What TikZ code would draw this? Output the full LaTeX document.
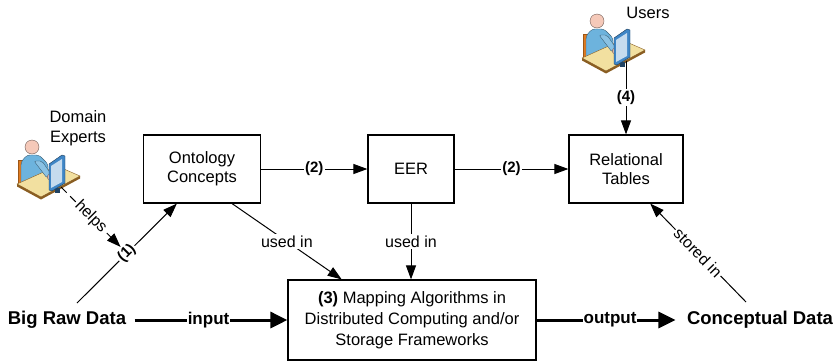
\documentclass[tikz,border=0pt]{standalone}
\usepackage{fontspec}
\setmainfont{Liberation Sans}
\usepackage{xcolor}
\usepackage{tikz}
\usetikzlibrary{arrows.meta}
\usetikzlibrary{positioning}

\definecolor{chairorange}{HTML}{E07B20}
\definecolor{shirtblue}{HTML}{6DB3DD}
\definecolor{skin}{HTML}{F5C9B9}
\definecolor{desktan}{HTML}{F2E0A0}
\definecolor{deskbrown}{HTML}{8A5E22}
\definecolor{screenblue}{HTML}{3F86C6}

\tikzstyle{block} = [rectangle, draw, line width=1.2pt, fill=white,
    align=center, font=\fontsize{16.5}{19}\selectfont]
\tikzstyle{data} = [font=\fontsize{18.5}{22}\selectfont\bfseries]
\tikzstyle{line} = [draw, line width=1pt, -{Triangle[length=14pt,width=10pt]}]
\tikzstyle{flow} = [draw, line width=3pt, -{Triangle[length=17pt,width=16pt]}]
\tikzstyle{tag} = [fill=white, inner sep=1.5pt, font=\fontsize{16}{19}\selectfont]
\tikzstyle{steptag} = [fill=white, inner sep=1.5pt, font=\fontsize{15}{18}\selectfont\bfseries]
\tikzstyle{flowtag} = [fill=white, inner sep=1pt, font=\fontsize{17}{20}\selectfont\bfseries]

% person sitting at a desk; #1 names the monitor foot, #2 is the top left corner
\newcommand{\deskuser}[2]{%
  \begin{scope}[shift={#2}]
    % chair
    \filldraw[fill=chairorange, draw=chairorange!70!black] (1,20) rectangle (8,44);
    % body and head
    \filldraw[fill=shirtblue, draw=shirtblue!55!black, rounded corners=3pt]
      (4,46) -- (4,22) -- (10,15) -- (22,15) -- (31,24) -- (31,41) -- (22,48) -- cycle;
    \filldraw[fill=skin, draw=skin!45!black] (15,7) circle (7);
    % desk
    \filldraw[fill=desktan, draw=deskbrown] (0,44) -- (40,26) -- (63,36) -- (24,57) -- cycle;
    \fill[deskbrown] (0,44) -- (24,57) -- (63,36) -- (63,38.5) -- (24,59.5) -- (0,46.5) -- cycle;
    % arm on the desk
    \filldraw[fill=shirtblue!80!white, draw=shirtblue!55!black, rounded corners=2pt]
      (17,21) -- (25,21) -- (34,34) -- (30,38) -- cycle;
    \filldraw[fill=skin, draw=skin!45!black] (33,37) circle (2.8);
    % monitor
    \fill[screenblue!50!black] (38,48) rectangle (43,53);
    \filldraw[fill=screenblue, draw=screenblue!45!black]
      (32,24) -- (45,15) -- (48,16) -- (48,43) -- (35,51) -- (32,50) -- cycle;
    \fill[screenblue!30!white] (34,26) -- (45,19) -- (45,42) -- (34,48) -- cycle;
    \coordinate (#1) at (44,47);
  \end{scope}}

\begin{document}
\begin{tikzpicture}[x=1pt, y=-1pt]
  \useasboundingbox (0,0) rectangle (838,362);

  % Place nodes
  \node [block, minimum width=117pt, minimum height=68pt] (onto) at (202,169) {Ontology\\Concepts};
  \node [block, minimum width=86pt, minimum height=68pt] (eer) at (411,169) {EER};
  \node [block, minimum width=114pt, minimum height=68pt] (rel) at (626,169) {Relational\\Tables};
  \node [block, minimum width=248pt, minimum height=80pt, font=\fontsize{16.5}{21}\selectfont]
    (mapping) at (412,320) {\textbf{(3)} Mapping Algorithms in\\Distributed Computing and/or\\Storage Frameworks};
  \node [data] (rawdata) at (67,320) {Big Raw Data};
  \node [data] (concept) at (760,320) {Conceptual Data};

  % People
  \deskuser{expert}{(17,140)}
  \deskuser{user}{(582,14)}
  \node [tag, fill=none, align=center, font=\fontsize{16.5}{20}\selectfont] (expertname) at (78,128) {Domain\\Experts};
  \node [tag, fill=none, font=\fontsize{16.5}{20}\selectfont] (username) at (648,13) {Users};

  \coordinate (rawtop) at (77,303);
  \coordinate (concepttop) at (746,302);

  % Draw edges
  \path [line] (rawtop) -- node [steptag, sloped] (step1) {(1)} (onto.234);
  \path [line, dashed, dash pattern=on 8pt off 5pt] (expert) -- node [tag, sloped] {helps} (step1);
  \path [line] (onto) -- node [steptag] {(2)} (eer);
  \path [line] (eer) -- node [steptag] {(2)} (rel);
  \path [line] (user) -- node [steptag] {(4)} (user |- rel.north);
  \path [line] (onto.311) -- node [tag] {used in} (mapping.150);
  \path [line] (eer.south) -- node [tag] {used in} (eer.south |- mapping.north);
  \path [line] (concepttop) -- node [tag, sloped] {stored in} (rel.305);
  \path [flow, shorten <=5pt] (rawdata) -- node [flowtag] {input} (mapping);
  \path [flow, shorten >=8pt] (mapping) -- node [flowtag] {output} (concept);
\end{tikzpicture}
\end{document}
